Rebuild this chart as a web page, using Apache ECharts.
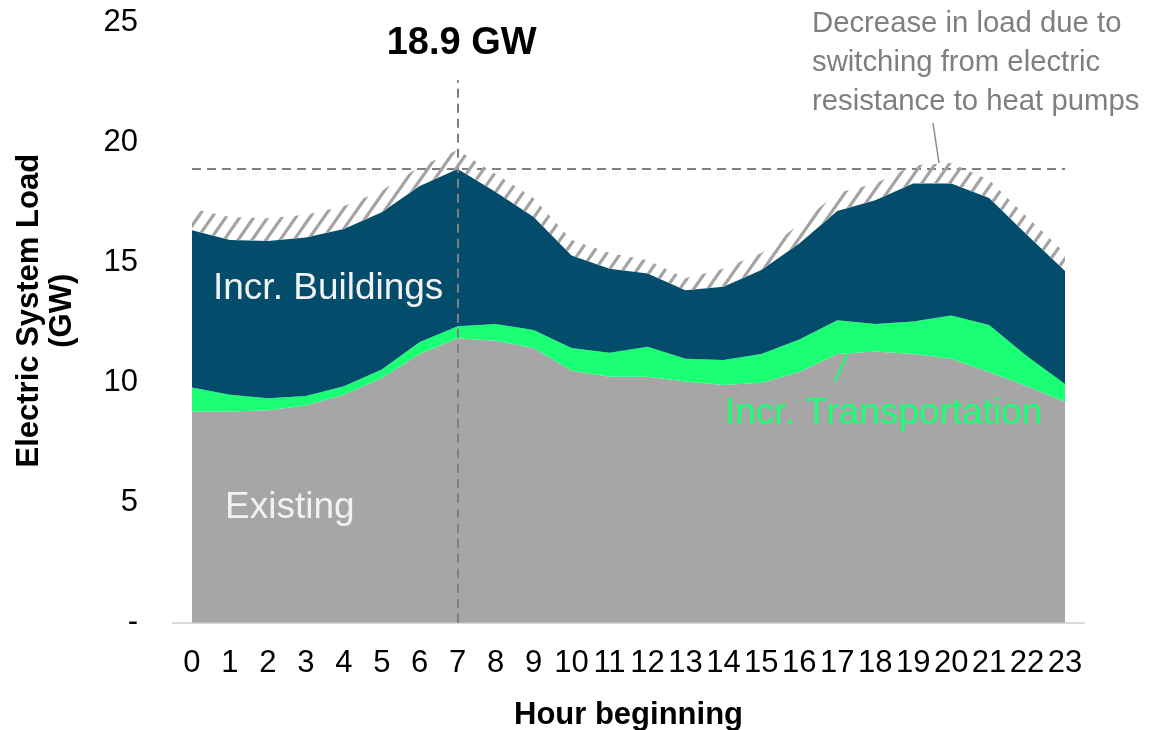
<!DOCTYPE html>
<html>
<head>
<meta charset="utf-8">
<script src="https://cdn.jsdelivr.net/npm/echarts@6/dist/echarts.min.js"></script>
<style>
html,body{margin:0;padding:0;background:#fff;}
#chart{width:1173px;height:730px;}
</style>
</head>
<body>
<div id="chart"></div>
<script>
// ---- data ----
const hours = ['0','1','2','3','4','5','6','7','8','9','10','11','12','13','14','15','16','17','18','19','20','21','22','23'];
const existing = [8.8, 8.8, 8.85, 9.05, 9.5, 10.2, 11.2, 11.85, 11.75, 11.45, 10.5, 10.25, 10.25, 10.05, 9.9, 10.0, 10.45, 11.2, 11.3, 11.2, 11.0, 10.45, 9.85, 9.2];
const incrTransportation = [1.0, 0.7, 0.5, 0.4, 0.35, 0.35, 0.5, 0.5, 0.7, 0.75, 0.95, 1.0, 1.25, 0.95, 1.05, 1.2, 1.35, 1.4, 1.15, 1.35, 1.8, 1.95, 1.25, 0.75];
const incrBuildings = [6.55, 6.45, 6.55, 6.6, 6.55, 6.55, 6.5, 6.55, 5.5, 4.7, 3.85, 3.5, 3.05, 2.85, 3.05, 3.5, 4.0, 4.55, 5.15, 5.75, 5.5, 5.3, 5.05, 4.7];
const heatPumpDecrease = [0.9, 0.95, 0.95, 0.95, 0.95, 0.9, 0.8, 0.8, 0.75, 0.8, 0.65, 0.65, 0.55, 0.5, 0.75, 0.7, 0.8, 0.75, 0.7, 0.75, 0.85, 0.75, 0.75, 0.75];
const peakHour = '7';
const peakGW = 18.9;
const peakLineTop = 22.6;
const yMin = 0, yMax = 25, yInterval = 5;
const zeroTickLabel = '-';
const peakLabel = '18.9 GW';
const annotationText = 'Decrease in load due to\nswitching from electric\nresistance to heat pumps';

// ---- hatch pattern ----
function makeHatch() {
  const w = 14, h = 20;
  const c = document.createElement('canvas');
  c.width = w; c.height = h;
  const ctx = c.getContext('2d');
  ctx.strokeStyle = '#a3a3a3';
  ctx.lineWidth = 3.2;
  for (let k = -1; k <= 1; k++) {
    const x0 = k * w;
    ctx.beginPath();
    ctx.moveTo(x0 - w, 2 * h);
    ctx.lineTo(x0 + 2 * w, -h);
    ctx.stroke();
  }
  return c;
}

const FONT = '"Liberation Sans", Arial, sans-serif';
const chart = echarts.init(document.getElementById('chart'), null, {renderer: 'canvas'});

function areaSeries(name, data, color, z) {
  return {
    name: name, type: 'line', stack: 'load', data: data,
    symbol: 'none', showSymbol: false, smooth: false,
    lineStyle: {width: 0, opacity: 0},
    areaStyle: {color: color, opacity: 1},
    z: z, silent: true, animation: false
  };
}

const hatchSeries = areaSeries('Decrease', heatPumpDecrease, {image: makeHatch(), repeat: 'repeat'}, 5);
hatchSeries.markLine = {
  silent: true,
  symbol: ['none', 'none'],
  animation: false,
  lineStyle: {color: '#7f7f7f', width: 2, type: [9, 6]},
  label: {show: false},
  data: [
    [{coord: [hours[0], peakGW]}, {coord: [hours[hours.length - 1], peakGW]}],
    [{coord: [peakHour, 0]}, {coord: [peakHour, peakLineTop],
      label: {show: true, position: 'end', formatter: peakLabel, distance: 18, offset: [4, 0],
        fontFamily: FONT, fontSize: 38, fontWeight: 'bold', color: '#000'}}]
  ]
};

const option = {
  backgroundColor: '#ffffff',
  animation: false,
  grid: {left: 173, right: 89, top: 22.7, bottom: 107.3, containLabel: false, outerBoundsMode: 'none'},
  xAxis: {
    type: 'category', data: hours, boundaryGap: true,
    axisLine: {show: true, lineStyle: {color: '#d9d9d9', width: 2}},
    axisTick: {show: false},
    axisLabel: {interval: 0, margin: 25, fontFamily: FONT, fontSize: 31, color: '#000'},
    name: 'Hour beginning', nameLocation: 'middle', nameGap: 77,
    nameTextStyle: {fontFamily: FONT, fontSize: 31, fontWeight: 'bold', color: '#000'}
  },
  yAxis: {
    type: 'value', min: yMin, max: yMax, interval: yInterval,
    axisLine: {show: false}, axisTick: {show: false}, splitLine: {show: false},
    axisLabel: {margin: 35, fontFamily: FONT, fontSize: 31, color: '#000',
      formatter: v => v === 0 ? zeroTickLabel : String(v)},
    name: 'Electric System Load\n(GW)', nameLocation: 'middle', nameRotate: 90, nameGap: 94,
    nameTextStyle: {fontFamily: FONT, fontSize: 31, fontWeight: 'bold', color: '#000', lineHeight: 33,
      padding: [0, 0, 0, 24]}
  },
  series: [
    areaSeries('Existing', existing, '#a6a6a6', 2),
    areaSeries('Incr. Transportation', incrTransportation, '#1aff74', 3),
    areaSeries('Incr. Buildings', incrBuildings, '#044c6b', 4),
    hatchSeries
  ],
  graphic: [
    {type: 'text', x: 213, y: 289, silent: true, z: 100,
     style: {text: 'Incr. Buildings', font: '37px ' + FONT, fill: '#f2f2f2', textAlign: 'left', textVerticalAlign: 'middle'}},
    {type: 'text', x: 225, y: 508, silent: true, z: 100,
     style: {text: 'Existing', font: '37px ' + FONT, fill: '#f2f2f2', textAlign: 'left', textVerticalAlign: 'middle'}},
    {type: 'text', x: 725, y: 414, silent: true, z: 100,
     style: {text: 'Incr. Transportation', font: '37px ' + FONT, fill: '#1aff74', textAlign: 'left', textVerticalAlign: 'middle'}},
    {type: 'line', silent: true, z: 100, shape: {x1: 835, y1: 381, x2: 851, y2: 346},
     style: {stroke: '#1aff74', lineWidth: 2}},
    {type: 'text', x: 812, y: 4, silent: true, z: 100,
     style: {text: annotationText, font: '29.3px ' + FONT, fill: '#7f7f7f', textAlign: 'left', textVerticalAlign: 'top', lineHeight: 39}},
    {type: 'line', silent: true, z: 100, shape: {x1: 933, y1: 123, x2: 939, y2: 163},
     style: {stroke: '#8c8c8c', lineWidth: 1.5}}
  ]
};
chart.setOption(option);
</script>
</body>
</html>
